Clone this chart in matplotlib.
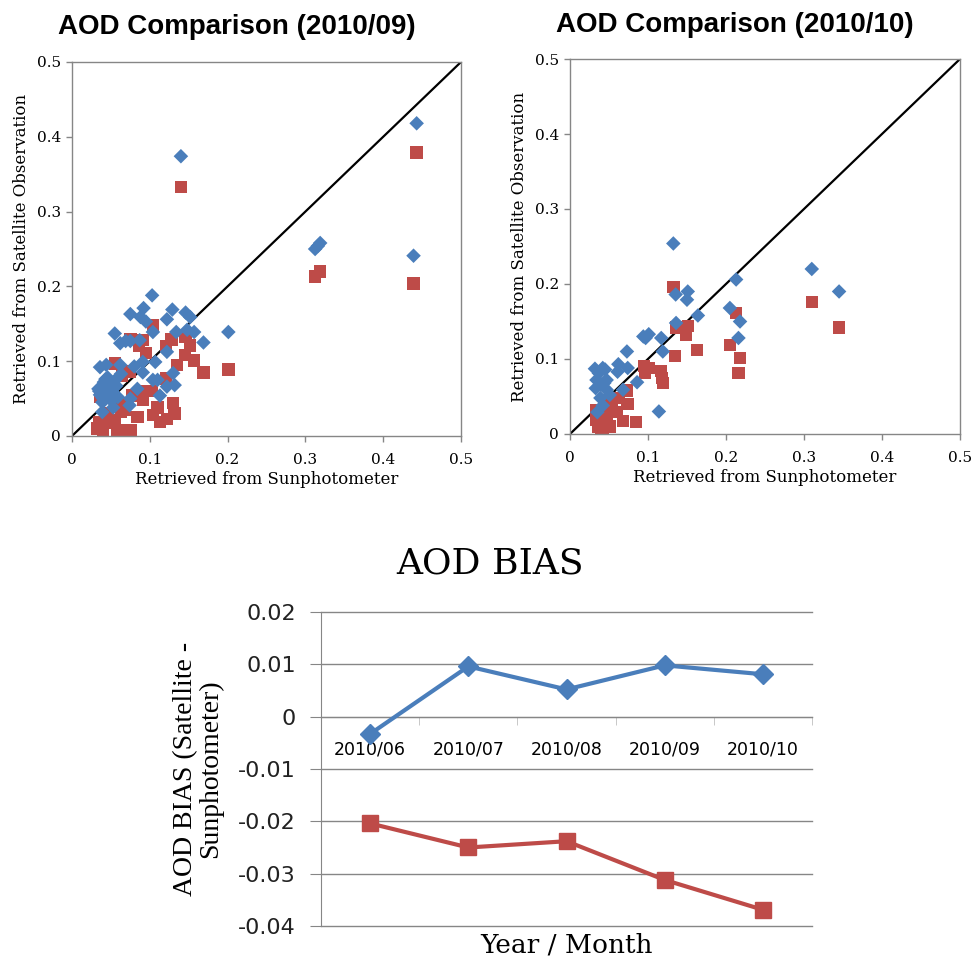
import matplotlib
matplotlib.use("Agg")
import matplotlib.pyplot as plt
import numpy as np

# ---------------- data ----------------
# AOD comparison 2010/09 (sunphotometer x, satellite y)
sep_blue_x = [0.443, 0.140, 0.3125, 0.316, 0.319, 0.439, 0.103, 0.092, 0.075, 0.129,
              0.088, 0.095, 0.122, 0.146, 0.152, 0.201, 0.157, 0.134, 0.148, 0.104,
              0.055, 0.169, 0.062, 0.069, 0.075, 0.087, 0.122, 0.107, 0.091, 0.080,
              0.036, 0.044, 0.062, 0.091, 0.130, 0.104, 0.110, 0.122, 0.132, 0.084,
              0.063, 0.113, 0.075, 0.074, 0.053, 0.039, 0.059,
              0.035, 0.038, 0.041, 0.044, 0.047, 0.050, 0.036, 0.040, 0.043, 0.046,
              0.049, 0.052, 0.055, 0.034, 0.039, 0.045, 0.051, 0.057]
sep_blue_y = [0.418, 0.374, 0.250, 0.254, 0.258, 0.241, 0.188, 0.171, 0.163, 0.169,
              0.159, 0.153, 0.156, 0.165, 0.159, 0.139, 0.139, 0.139, 0.142, 0.139,
              0.137, 0.125, 0.124, 0.127, 0.127, 0.128, 0.1125, 0.099, 0.099, 0.093,
              0.092, 0.095, 0.095, 0.085, 0.084, 0.075, 0.075, 0.066, 0.068, 0.063,
              0.083, 0.054, 0.050, 0.041, 0.038, 0.032, 0.052,
              0.060, 0.066, 0.072, 0.070, 0.064, 0.058, 0.055, 0.050, 0.076, 0.078,
              0.068, 0.062, 0.074, 0.063, 0.045, 0.056, 0.047, 0.067]
sep_red_x = [0.443, 0.140, 0.3125, 0.319, 0.439, 0.201, 0.169, 0.104, 0.075, 0.091,
             0.086, 0.095, 0.128, 0.146, 0.152, 0.121, 0.145, 0.157, 0.135, 0.055,
             0.064, 0.074, 0.121, 0.092, 0.103, 0.077, 0.091, 0.130, 0.110, 0.084,
             0.104, 0.113, 0.122, 0.132, 0.076, 0.062, 0.040, 0.033, 0.048, 0.063,
             0.061, 0.036, 0.055, 0.044, 0.035, 0.070, 0.058, 0.045, 0.068]
sep_red_y = [0.379, 0.333, 0.213, 0.220, 0.204, 0.089, 0.085, 0.148, 0.130, 0.128,
             0.120, 0.111, 0.129, 0.133, 0.121, 0.120, 0.108, 0.101, 0.095, 0.097,
             0.081, 0.086, 0.077, 0.060, 0.060, 0.054, 0.048, 0.044, 0.038, 0.025,
             0.028, 0.019, 0.023, 0.030, 0.008, 0.008, 0.003, 0.010, 0.017, 0.032,
             0.044, 0.052, 0.021, 0.025, 0.019, 0.008, 0.005, 0.030, 0.035]

# AOD comparison 2010/10
oct_blue_x = [0.1325, 0.310, 0.345, 0.213, 0.1355, 0.151, 0.150, 0.205, 0.218, 0.216,
              0.164, 0.136, 0.094, 0.101, 0.097, 0.117, 0.119, 0.073, 0.114, 0.062,
              0.061, 0.074, 0.086, 0.068, 0.032, 0.042, 0.045, 0.034, 0.047, 0.033,
              0.040, 0.047, 0.039, 0.042, 0.035, 0.051, 0.037, 0.044]
oct_blue_y = [0.254, 0.220, 0.190, 0.206, 0.186, 0.190, 0.179, 0.168, 0.150, 0.128,
              0.158, 0.148, 0.130, 0.133, 0.128, 0.128, 0.110, 0.110, 0.030, 0.093,
              0.083, 0.088, 0.069, 0.059, 0.087, 0.088, 0.086, 0.072, 0.072, 0.061,
              0.066, 0.059, 0.048, 0.038, 0.029, 0.052, 0.081, 0.068]
oct_red_x = [0.1325, 0.310, 0.345, 0.213, 0.205, 0.218, 0.216, 0.163, 0.151, 0.149,
             0.136, 0.135, 0.095, 0.101, 0.096, 0.117, 0.118, 0.119, 0.085, 0.068,
             0.074, 0.073, 0.062, 0.060, 0.053, 0.034, 0.034, 0.036, 0.042, 0.040,
             0.051, 0.047, 0.039, 0.044]
oct_red_y = [0.196, 0.176, 0.142, 0.161, 0.119, 0.101, 0.081, 0.112, 0.144, 0.132,
             0.142, 0.104, 0.091, 0.088, 0.082, 0.084, 0.075, 0.068, 0.016, 0.017,
             0.040, 0.058, 0.048, 0.029, 0.037, 0.032, 0.019, 0.010, 0.004, 0.000,
             0.010, 0.024, 0.015, 0.044]

# AOD bias by month
months = ["2010/06", "2010/07", "2010/08", "2010/09", "2010/10"]
bias_blue = [-0.0033, 0.0096, 0.0052, 0.0098, 0.0081]
bias_red = [-0.0204, -0.0250, -0.0238, -0.0312, -0.0369]

scatter_ticks = [0, 0.1, 0.2, 0.3, 0.4, 0.5]
scatter_ticklabels = ["0", "0.1", "0.2", "0.3", "0.4", "0.5"]
bias_ticks = [0.02, 0.01, 0, -0.01, -0.02, -0.03, -0.04]
bias_ticklabels = ["0.02", "0.01", "0", "-0.01", "-0.02", "-0.03", "-0.04"]

BLUE = "#4A7EBB"
RED = "#BE4B48"
GRAY = "#868686"

fig = plt.figure(figsize=(9.74, 9.58), dpi=100)


def scatter_panel(rect, bx, by, rx, ry, title, title_x, title_y):
    ax = fig.add_axes(rect)
    ax.plot([0, 0.5], [0, 0.5], color="black", lw=1.6, zorder=1)
    ax.scatter(rx, ry, marker="s", s=80, color=RED, edgecolors="none", zorder=2)
    ax.scatter(bx, by, marker="D", s=55, color=BLUE, edgecolors="none", zorder=3)
    ax.set_xlim(0, 0.5)
    ax.set_ylim(0, 0.5)
    ax.set_xticks(scatter_ticks)
    ax.set_xticklabels(scatter_ticklabels)
    ax.set_yticks(scatter_ticks)
    ax.set_yticklabels(scatter_ticklabels)
    for sp in ax.spines.values():
        sp.set_color(GRAY)
        sp.set_linewidth(1.0)
    ax.tick_params(direction="out", length=4, color=GRAY, width=1.0,
                   labelsize=11, pad=4)
    ax.tick_params(axis="x", pad=8)
    for lab in ax.get_xticklabels() + ax.get_yticklabels():
        lab.set_family("DejaVu Serif")
    ax.set_xlabel("Retrieved from Sunphotometer", family="DejaVu Serif",
                  fontsize=12, labelpad=3)
    ax.set_ylabel("Retrieved from Satellite Observation", family="DejaVu Serif",
                  fontsize=12, labelpad=5)
    fig.text(title_x, title_y, title, ha="center", va="center",
             family="Liberation Sans", weight="bold", fontsize=20)
    return ax


scatter_panel([0.0739, 0.5449, 0.3994, 0.3904], sep_blue_x, sep_blue_y,
              sep_red_x, sep_red_y, "AOD Comparison (2010/09)",
              237 / 974, 1 - 27 / 958)
scatter_panel([0.5852, 0.5470, 0.4004, 0.3914], oct_blue_x, oct_blue_y,
              oct_red_x, oct_red_y, "AOD Comparison (2010/10)",
              735 / 974, 1 - 25 / 958)

# ---------------- bias line chart ----------------
ax = fig.add_axes([0.3296, 0.0334, 0.5041, 0.3278])
xpos = np.arange(len(months))
ax.plot(xpos, bias_blue, color=BLUE, lw=3, marker="D", ms=10, zorder=3)
ax.plot(xpos, bias_red, color=RED, lw=3, marker="s", ms=12, zorder=3)
ax.set_xlim(-0.5, len(months) - 0.5)
ax.set_ylim(-0.04, 0.02)
ax.set_yticks(bias_ticks)
ax.set_yticklabels(bias_ticklabels)
ax.yaxis.grid(True, color=GRAY, lw=1.0)
for gl in ax.get_ygridlines():
    gl.set_clip_on(False)
ax.set_axisbelow(True)
for s in ["top", "right"]:
    ax.spines[s].set_visible(False)
ax.spines["left"].set_color(GRAY)
ax.spines["bottom"].set_color(GRAY)
ax.spines["bottom"].set_position(("data", 0))
ax.set_xticks(xpos)
ax.set_xticklabels(months)
ax.set_xticks(np.arange(len(months) + 1) - 0.5, minor=True)
ax.tick_params(axis="x", which="major", length=0, pad=17, labelsize=12.5)
ax.tick_params(axis="x", which="minor", length=6, direction="out", color="#BFBFBF")
ax.tick_params(axis="y", length=8, direction="out", color=GRAY, labelsize=16, pad=10)
for lab in ax.get_yticklabels():
    lab.set_color("#222222")
ax.set_ylabel("AOD BIAS (Satellite -\nSunphotometer)", family="Liberation Serif",
              fontsize=20, linespacing=1.0)
ax.yaxis.set_label_coords(-0.20, 0.5)
fig.text(490 / 974, 1 - 563 / 958, "AOD BIAS", ha="center", va="center",
         family="DejaVu Serif", fontsize=26)
fig.text(566 / 974, 1 - 945 / 958, "Year / Month", ha="center", va="center",
         family="DejaVu Serif", fontsize=19)

fig.savefig("out.png", dpi=100)
